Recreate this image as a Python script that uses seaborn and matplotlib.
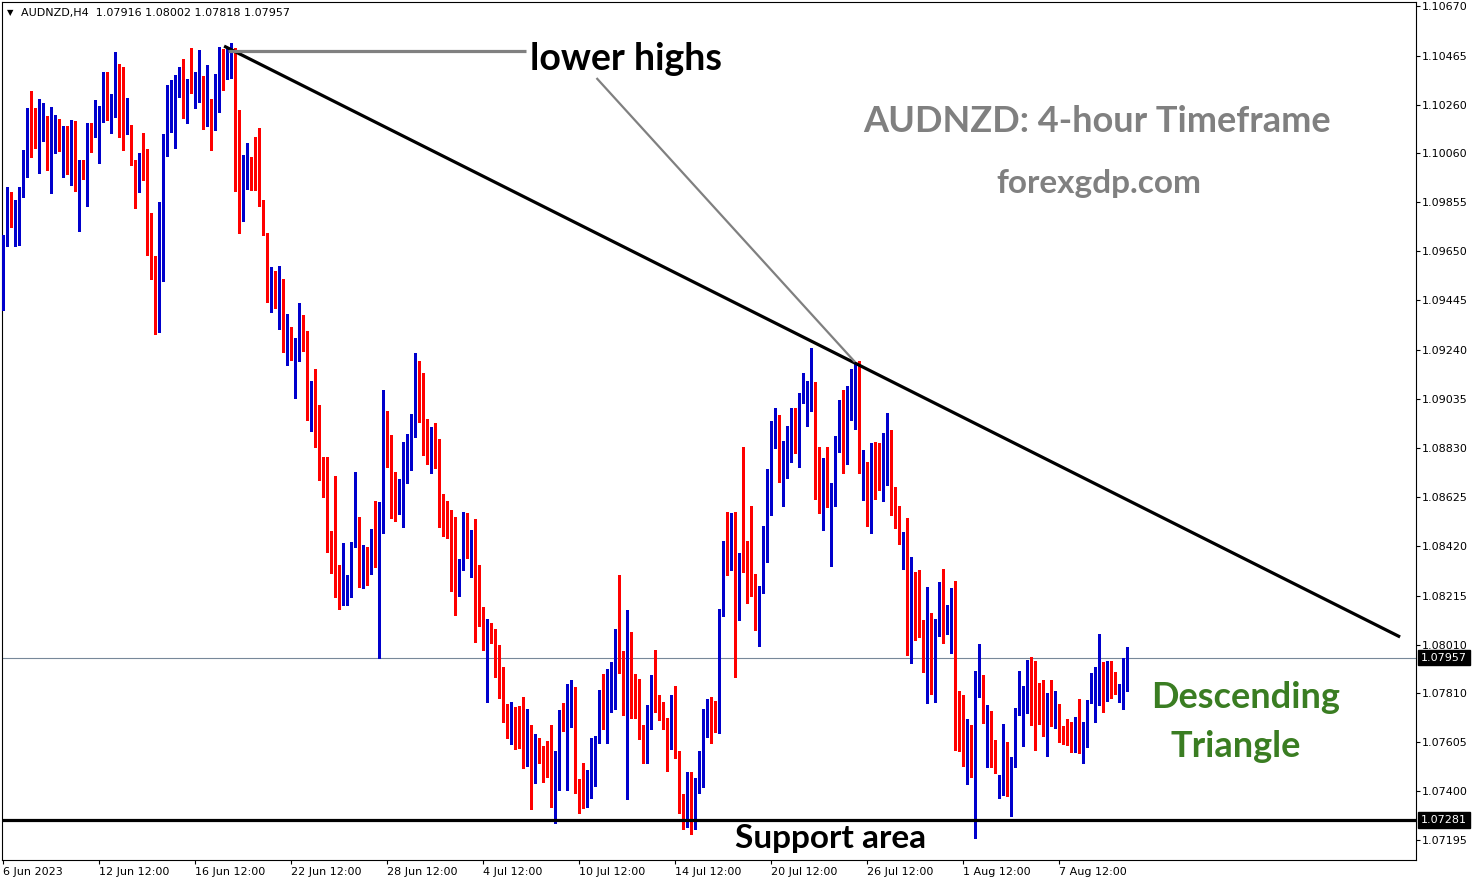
import numpy as np
import pandas as pd
import matplotlib
matplotlib.use("Agg")
import matplotlib.pyplot as plt
import matplotlib.transforms as mtransforms
import seaborn as sns

# AUDNZD H4 candles, 6 Jun 2023 12:00 -> 10 Aug 2023 08:00
opens = [
    1.09414, 1.09689, 1.09864, 1.09685, 1.09810, 1.09889, 1.10043, 1.10230, 1.10185, 1.10005, 1.10122, 1.10151,
    1.10047, 1.10118, 1.10168, 1.10005, 1.10143, 1.09997, 1.10172, 1.09905, 1.10001, 1.09947, 1.10168, 1.10147,
    1.10164, 1.10218, 1.10376, 1.10185, 1.10230, 1.10314, 1.10293, 1.10160, 1.10168, 1.09980, 1.09964, 1.10060,
    1.09985, 1.09735, 1.09560, 1.09385, 1.09651, 1.10126, 1.10247, 1.10297, 1.10301, 1.10276, 1.10214, 1.10360,
    1.10343, 1.10360, 1.10376, 1.10176, 1.10280, 1.10226, 1.10247, 1.10430, 1.10368, 1.10405, 1.10405, 1.10164,
    1.09776, 1.09993, 1.09997, 1.09989, 1.09980, 1.09855, 1.09726, 1.09476, 1.09530, 1.09393, 1.09510, 1.09247,
    1.09335, 1.09201, 1.09210, 1.09310, 1.09272, 1.08976, 1.09089, 1.08897, 1.08789, 1.08626, 1.08430, 1.08339,
    1.08222, 1.08185, 1.08235, 1.08326, 1.08422, 1.08539, 1.08268, 1.08330, 1.08318, 1.08455, 1.08393, 1.08589,
    1.08918, 1.08797, 1.08714, 1.08564, 1.08630, 1.08718, 1.08860, 1.08918, 1.09189, 1.08943, 1.08905, 1.08797,
    1.08851, 1.08805, 1.08610, 1.08568, 1.08564, 1.08351, 1.08301, 1.08335, 1.08526, 1.08368, 1.08410, 1.08155,
    1.08135, 1.08010, 1.08085, 1.07989, 1.07947, 1.07822, 1.07764, 1.07643, 1.07726, 1.07693, 1.07618, 1.07593,
    1.07643, 1.07568, 1.07605, 1.07585, 1.07560, 1.07493, 1.07385, 1.07443, 1.07714, 1.07447, 1.07772, 1.07805,
    1.07405, 1.07393, 1.07389, 1.07497, 1.07522, 1.07618, 1.07747, 1.07722, 1.07743, 1.07789, 1.07947, 1.07914,
    1.07880, 1.08051, 1.07797, 1.07705, 1.07635, 1.07555, 1.07664, 1.07830, 1.07751, 1.07760, 1.07664, 1.07605,
    1.07793, 1.07564, 1.07376, 1.07389, 1.07455, 1.07310, 1.07414, 1.07422, 1.07689, 1.07693, 1.07685, 1.07651,
    1.08155, 1.08430, 1.08405, 1.08530, 1.08135, 1.08355, 1.08339, 1.08268, 1.08235, 1.08089, 1.08239, 1.08360,
    1.08660, 1.08897, 1.08914, 1.08730, 1.08801, 1.08897, 1.08955, 1.08822, 1.09018, 1.08980, 1.08997, 1.09068,
    1.08689, 1.08589, 1.08789, 1.08526, 1.08672, 1.08826, 1.08976, 1.08768, 1.09080, 1.08985, 1.09035, 1.08735,
    1.08751, 1.08522, 1.08835, 1.08697, 1.08676, 1.08868, 1.08897, 1.08668, 1.08560, 1.08414, 1.08464, 1.08101,
    1.08297, 1.08193, 1.08068, 1.07964, 1.08135, 1.07814, 1.08064, 1.08226, 1.08076, 1.08035, 1.08143, 1.07772,
    1.07718, 1.07589, 1.07655, 1.07518, 1.07855, 1.07864, 1.07689, 1.07693, 1.07576, 1.07376, 1.07435, 1.07497,
    1.07389, 1.07530, 1.07726, 1.07622, 1.07830, 1.07889, 1.07885, 1.07776, 1.07776, 1.07555, 1.07730, 1.07701,
    1.07743, 1.07668, 1.07630, 1.07601, 1.07572, 1.07676, 1.07580, 1.07647, 1.07768, 1.07689, 1.07893, 1.07901,
    1.07839, 1.07860, 1.07843, 1.07805, 1.07818, 1.07916,
]
highs = [
    1.09718, 1.09918, 1.09897, 1.09864, 1.09918, 1.10072, 1.10247, 1.10318, 1.10247, 1.10285, 1.10268, 1.10214,
    1.10251, 1.10218, 1.10201, 1.10172, 1.10172, 1.10197, 1.10193, 1.10030, 1.10030, 1.10185, 1.10185, 1.10280,
    1.10255, 1.10397, 1.10397, 1.10305, 1.10480, 1.10430, 1.10418, 1.10289, 1.10176, 1.10030, 1.10060, 1.10143,
    1.10076, 1.09810, 1.09630, 1.09855, 1.10139, 1.10343, 1.10364, 1.10385, 1.10418, 1.10451, 1.10368, 1.10497,
    1.10397, 1.10489, 1.10380, 1.10426, 1.10285, 1.10389, 1.10501, 1.10493, 1.10493, 1.10518, 1.10497, 1.10239,
    1.10051, 1.10101, 1.10043, 1.10126, 1.10164, 1.09864, 1.09726, 1.09585, 1.09568, 1.09589, 1.09535, 1.09389,
    1.09335, 1.09289, 1.09435, 1.09385, 1.09318, 1.09110, 1.09160, 1.09010, 1.08793, 1.08793, 1.08485, 1.08714,
    1.08343, 1.08435, 1.08301, 1.08439, 1.08730, 1.08543, 1.08426, 1.08418, 1.08493, 1.08610, 1.08605, 1.09072,
    1.08985, 1.08885, 1.08730, 1.08701, 1.08855, 1.08889, 1.08972, 1.09226, 1.09193, 1.09143, 1.08951, 1.08918,
    1.08935, 1.08868, 1.08639, 1.08610, 1.08572, 1.08543, 1.08368, 1.08564, 1.08560, 1.08489, 1.08535, 1.08343,
    1.08168, 1.08118, 1.08101, 1.08076, 1.08010, 1.07918, 1.07764, 1.07772, 1.07751, 1.07755, 1.07793, 1.07743,
    1.07676, 1.07639, 1.07622, 1.07589, 1.07610, 1.07676, 1.07568, 1.07739, 1.07768, 1.07847, 1.07864, 1.07835,
    1.07451, 1.07518, 1.07489, 1.07622, 1.07630, 1.07822, 1.07889, 1.07910, 1.07939, 1.08076, 1.08301, 1.07985,
    1.08155, 1.08064, 1.07889, 1.07868, 1.07676, 1.07760, 1.07885, 1.07989, 1.07801, 1.07772, 1.07705, 1.07801,
    1.07839, 1.07568, 1.07389, 1.07480, 1.07480, 1.07455, 1.07568, 1.07743, 1.07785, 1.07793, 1.07776, 1.08160,
    1.08443, 1.08564, 1.08560, 1.08564, 1.08393, 1.08835, 1.08443, 1.08589, 1.08305, 1.08255, 1.08505, 1.08743,
    1.08943, 1.08997, 1.08968, 1.08860, 1.08922, 1.08997, 1.08997, 1.09060, 1.09143, 1.09110, 1.09247, 1.09105,
    1.08835, 1.08789, 1.08835, 1.08685, 1.08880, 1.09030, 1.09072, 1.09089, 1.09160, 1.09185, 1.09193, 1.08822,
    1.08772, 1.08851, 1.08855, 1.08851, 1.08893, 1.08976, 1.08905, 1.08668, 1.08589, 1.08480, 1.08539, 1.08376,
    1.08314, 1.08322, 1.08114, 1.08251, 1.08143, 1.08118, 1.08272, 1.08326, 1.08176, 1.08247, 1.08276, 1.07818,
    1.07801, 1.07701, 1.07676, 1.07901, 1.08014, 1.07885, 1.07760, 1.07735, 1.07614, 1.07468, 1.07680, 1.07605,
    1.07543, 1.07747, 1.07901, 1.07839, 1.07947, 1.07960, 1.07943, 1.07851, 1.07864, 1.07810, 1.07864, 1.07818,
    1.07764, 1.07672, 1.07701, 1.07689, 1.07710, 1.07785, 1.07689, 1.07780, 1.07893, 1.07918, 1.08055, 1.07939,
    1.07943, 1.07943, 1.07897, 1.07847, 1.07955, 1.08002,
]
lows = [
    1.09405, 1.09672, 1.09751, 1.09672, 1.09676, 1.09876, 1.09960, 1.10043, 1.10080, 1.09976, 1.10110, 1.09989,
    1.09893, 1.10060, 1.10068, 1.09960, 1.09972, 1.09926, 1.09901, 1.09735, 1.09951, 1.09839, 1.10064, 1.10126,
    1.10018, 1.10189, 1.10197, 1.10143, 1.10210, 1.10126, 1.10072, 1.10139, 1.10010, 1.09830, 1.09897, 1.09947,
    1.09635, 1.09535, 1.09305, 1.09314, 1.09526, 1.10047, 1.10147, 1.10080, 1.10293, 1.10205, 1.10185, 1.10310,
    1.10247, 1.10272, 1.10160, 1.10172, 1.10072, 1.10155, 1.10230, 1.10322, 1.10368, 1.10372, 1.09901, 1.09726,
    1.09776, 1.09910, 1.09905, 1.09905, 1.09839, 1.09718, 1.09439, 1.09397, 1.09414, 1.09326, 1.09230, 1.09176,
    1.09197, 1.09039, 1.09193, 1.09235, 1.08947, 1.08901, 1.08835, 1.08697, 1.08626, 1.08397, 1.08310, 1.08210,
    1.08160, 1.08176, 1.08176, 1.08210, 1.08418, 1.08251, 1.08247, 1.08260, 1.08305, 1.08335, 1.07955, 1.08476,
    1.08751, 1.08539, 1.08526, 1.08555, 1.08501, 1.08685, 1.08739, 1.08876, 1.08939, 1.08801, 1.08764, 1.08726,
    1.08747, 1.08501, 1.08464, 1.08455, 1.08235, 1.08135, 1.08214, 1.08322, 1.08372, 1.08293, 1.08022, 1.08089,
    1.07989, 1.07772, 1.08018, 1.07876, 1.07789, 1.07689, 1.07622, 1.07597, 1.07576, 1.07580, 1.07497, 1.07505,
    1.07326, 1.07435, 1.07518, 1.07439, 1.07460, 1.07335, 1.07268, 1.07405, 1.07651, 1.07405, 1.07668, 1.07393,
    1.07310, 1.07330, 1.07335, 1.07372, 1.07422, 1.07601, 1.07660, 1.07601, 1.07730, 1.07743, 1.07893, 1.07718,
    1.07368, 1.07705, 1.07705, 1.07618, 1.07518, 1.07518, 1.07660, 1.07730, 1.07697, 1.07660, 1.07485, 1.07576,
    1.07539, 1.07310, 1.07243, 1.07251, 1.07222, 1.07243, 1.07393, 1.07418, 1.07626, 1.07601, 1.07647, 1.07643,
    1.08130, 1.08301, 1.08322, 1.07876, 1.08114, 1.08314, 1.08185, 1.08214, 1.08072, 1.08005, 1.08226, 1.08355,
    1.08551, 1.08830, 1.08689, 1.08589, 1.08705, 1.08772, 1.08810, 1.08751, 1.09018, 1.08922, 1.08985, 1.08618,
    1.08560, 1.08489, 1.08585, 1.08339, 1.08589, 1.08814, 1.08726, 1.08764, 1.08947, 1.08910, 1.08726, 1.08614,
    1.08505, 1.08476, 1.08618, 1.08655, 1.08610, 1.08676, 1.08551, 1.08497, 1.08430, 1.08326, 1.07968, 1.07935,
    1.08030, 1.08043, 1.07897, 1.07768, 1.07805, 1.07772, 1.08047, 1.08018, 1.08055, 1.07976, 1.07572, 1.07568,
    1.07505, 1.07430, 1.07460, 1.07205, 1.07793, 1.07685, 1.07501, 1.07501, 1.07476, 1.07372, 1.07385, 1.07380,
    1.07297, 1.07501, 1.07718, 1.07589, 1.07726, 1.07676, 1.07572, 1.07680, 1.07630, 1.07547, 1.07672, 1.07664,
    1.07605, 1.07597, 1.07593, 1.07564, 1.07564, 1.07560, 1.07518, 1.07585, 1.07768, 1.07689, 1.07760, 1.07730,
    1.07776, 1.07789, 1.07805, 1.07772, 1.07743, 1.07818,
]
closes = [
    1.09697, 1.09864, 1.09768, 1.09814, 1.09889, 1.10047, 1.10230, 1.10185, 1.10164, 1.10126, 1.10151, 1.10047,
    1.10126, 1.10168, 1.10151, 1.10143, 1.09993, 1.10172, 1.09905, 1.10001, 1.09997, 1.10164, 1.10147, 1.10164,
    1.10226, 1.10376, 1.10226, 1.10235, 1.10314, 1.10293, 1.10160, 1.10172, 1.10022, 1.09964, 1.10060, 1.09980,
    1.09735, 1.09555, 1.09476, 1.09660, 1.10135, 1.10251, 1.10314, 1.10305, 1.10380, 1.10214, 1.10360, 1.10347,
    1.10360, 1.10372, 1.10255, 1.10280, 1.10226, 1.10251, 1.10426, 1.10368, 1.10447, 1.10410, 1.10160, 1.09776,
    1.09997, 1.10030, 1.09989, 1.09980, 1.09855, 1.09726, 1.09476, 1.09530, 1.09518, 1.09505, 1.09247, 1.09335,
    1.09205, 1.09214, 1.09360, 1.09272, 1.08968, 1.09089, 1.08893, 1.08785, 1.08639, 1.08426, 1.08335, 1.08214,
    1.08185, 1.08239, 1.08255, 1.08426, 1.08539, 1.08268, 1.08330, 1.08318, 1.08455, 1.08393, 1.08589, 1.08922,
    1.08793, 1.08710, 1.08630, 1.08635, 1.08718, 1.08864, 1.08922, 1.09189, 1.08960, 1.08901, 1.08797, 1.08855,
    1.08797, 1.08605, 1.08493, 1.08560, 1.08347, 1.08301, 1.08339, 1.08522, 1.08401, 1.08414, 1.08147, 1.08135,
    1.08010, 1.08085, 1.08068, 1.07939, 1.07822, 1.07764, 1.07643, 1.07730, 1.07651, 1.07618, 1.07593, 1.07647,
    1.07568, 1.07605, 1.07560, 1.07560, 1.07489, 1.07389, 1.07443, 1.07714, 1.07685, 1.07780, 1.07810, 1.07397,
    1.07393, 1.07385, 1.07435, 1.07530, 1.07618, 1.07743, 1.07714, 1.07751, 1.07847, 1.07947, 1.07914, 1.07876,
    1.08055, 1.07793, 1.07768, 1.07630, 1.07551, 1.07672, 1.07835, 1.07751, 1.07718, 1.07664, 1.07605, 1.07789,
    1.07564, 1.07372, 1.07285, 1.07455, 1.07310, 1.07414, 1.07435, 1.07693, 1.07735, 1.07680, 1.07651, 1.08155,
    1.08430, 1.08405, 1.08543, 1.08135, 1.08360, 1.08335, 1.08268, 1.08230, 1.08076, 1.08239, 1.08360, 1.08668,
    1.08905, 1.08914, 1.08693, 1.08801, 1.08901, 1.08951, 1.08826, 1.09022, 1.09089, 1.09001, 1.09068, 1.08689,
    1.08589, 1.08789, 1.08630, 1.08680, 1.08830, 1.08976, 1.08768, 1.09080, 1.09114, 1.09035, 1.08730, 1.08751,
    1.08526, 1.08835, 1.08735, 1.08676, 1.08868, 1.08897, 1.08664, 1.08555, 1.08455, 1.08464, 1.08105, 1.08297,
    1.08193, 1.08068, 1.07926, 1.08139, 1.07814, 1.08068, 1.08222, 1.08076, 1.08147, 1.08143, 1.07768, 1.07710,
    1.07589, 1.07660, 1.07485, 1.07860, 1.07864, 1.07685, 1.07693, 1.07568, 1.07480, 1.07430, 1.07497, 1.07389,
    1.07535, 1.07735, 1.07751, 1.07826, 1.07885, 1.07880, 1.07772, 1.07768, 1.07689, 1.07735, 1.07697, 1.07743,
    1.07660, 1.07626, 1.07626, 1.07572, 1.07672, 1.07580, 1.07647, 1.07772, 1.07839, 1.07897, 1.07901, 1.07839,
    1.07860, 1.07839, 1.07810, 1.07822, 1.07914, 1.07957,
]

# axis labels
time_labels = ["6 Jun 2023", "12 Jun 12:00", "16 Jun 12:00", "22 Jun 12:00", "28 Jun 12:00",
               "4 Jul 12:00", "10 Jul 12:00", "14 Jul 12:00", "20 Jul 12:00", "26 Jul 12:00",
               "1 Aug 12:00", "7 Aug 12:00"]
time_label_bars = [0, 24, 48, 72, 96, 120, 144, 168, 192, 216, 240, 264]
price_ticks = [1.10670, 1.10465, 1.10260, 1.10060, 1.09855, 1.09650, 1.09445, 1.09240, 1.09035,
               1.08830, 1.08625, 1.08420, 1.08215, 1.08010, 1.07810, 1.07605, 1.07400, 1.07195]
bid_price = 1.07957
support_price = 1.07281

# trend line and pointer lines (bar index, price)
trend_x = [55.2, 349.2]
trend_y = [1.10505, 1.08043]
pointer_h_x = [56.2, 130.7]
pointer_h_y = [1.10485, 1.10485]
pointer_d_x = [148.3, 212.9]
pointer_d_y = [1.10372, 1.09189]

sns.set_style("white")
plt.rcParams["font.family"] = ["DejaVu Sans"]

df = pd.DataFrame({"open": opens, "high": highs, "low": lows, "close": closes})
df["bar"] = np.arange(len(df))
df["up"] = df["close"] >= df["open"]
bull, bear = "#0000CC", "#FF0000"
cols = np.where(df["up"], bull, bear)

W, H = 1480, 884
fig = plt.figure(figsize=(W / 100, H / 100), dpi=100)
ax = fig.add_axes([2 / W, 24 / H, 1414 / W, 858 / H])
ax.set_xlim(-0.325, 353.175)
ax.set_ylim(1.071137, 1.106887)

px = (1.106887 - 1.071137) / 858  # price per pixel
lo = np.minimum(df["low"], np.minimum(df["open"], df["close"]))
hi = np.maximum(df["high"], np.maximum(df["open"], df["close"]))
ax.vlines(df["bar"], lo, hi, colors=cols, linewidth=0.8, antialiased=False, zorder=3)
body_lo = np.minimum(df["open"], df["close"])
body_h = np.maximum(np.abs(df["close"] - df["open"]), px)
ax.bar(df["bar"], body_h, bottom=body_lo, width=0.75, color=cols, linewidth=0,
       antialiased=False, zorder=4)

# bid line and support line
ax.axhline(bid_price, color="#778899", linewidth=0.8, zorder=2)
ax.axhline(support_price, color="black", linewidth=2.3, zorder=5)

# trend line + pointers
ax.plot(trend_x, trend_y, color="black", linewidth=2.3, zorder=6, solid_capstyle="butt")
ax.plot(pointer_h_x, pointer_h_y, color="#808080", linewidth=2.3, zorder=6, solid_capstyle="butt")
ax.plot(pointer_d_x, pointer_d_y, color="#808080", linewidth=1.6, zorder=6, solid_capstyle="butt")

# axes styling
for s in ax.spines.values():
    s.set_color("black")
    s.set_linewidth(0.8)
ax.yaxis.tick_right()
ax.set_yticks(price_ticks)
ax.set_yticklabels([f"{p:.5f}" for p in price_ticks])
ax.set_xticks(time_label_bars)
ax.set_xticklabels(time_labels)
for lab in ax.get_xticklabels():
    lab.set_ha("left")
ax.tick_params(axis="both", direction="out", length=3, width=0.8, color="black",
               labelsize=8, labelcolor="black", pad=1.5)
ax.tick_params(axis="y", left=False, right=True)
ax.tick_params(axis="x", bottom=True, pad=2)
ax.grid(False)

# price boxes on the right scale
trans = mtransforms.blended_transform_factory(ax.transAxes, ax.transData)
for p in [bid_price, support_price]:
    ax.text(1 + 5 / 1414, p, f"{p:.5f}", transform=trans, ha="left", va="center",
            fontsize=8, color="white", zorder=10, clip_on=False,
            bbox=dict(boxstyle="square,pad=0.25", facecolor="black", edgecolor="black"))

# header
fig.text(7 / W, 1 - 13 / H, "\u25BC", fontsize=6, va="center", ha="left", color="black")
fig.text(21 / W, 1 - 13 / H, "AUDNZD,H4  1.07916 1.08002 1.07818 1.07957",
         fontsize=8, va="center", ha="left", color="black")

# annotations
big = dict(family="Lato", weight="bold", ha="center", va="baseline")
fig.text(626 / W, 1 - 70 / H, "lower highs", fontsize=27, color="black", **big)
fig.text(1097 / W, 1 - 132 / H, "AUDNZD: 4-hour Timeframe", fontsize=26, color="#808080", **big)
fig.text(1099 / W, 1 - 193 / H, "forexgdp.com", fontsize=24, color="#808080", **big)
fig.text(1246 / W, 1 - 708 / H, "Descending", fontsize=26, color="#3A7D22", **big)
fig.text(1236 / W, 1 - 757 / H, "Triangle", fontsize=26, color="#3A7D22", **big)
fig.text(831 / W, 1 - 848 / H, "Support area", fontsize=24, color="black", **big)

fig.savefig("out.png", dpi=100, facecolor="white")
